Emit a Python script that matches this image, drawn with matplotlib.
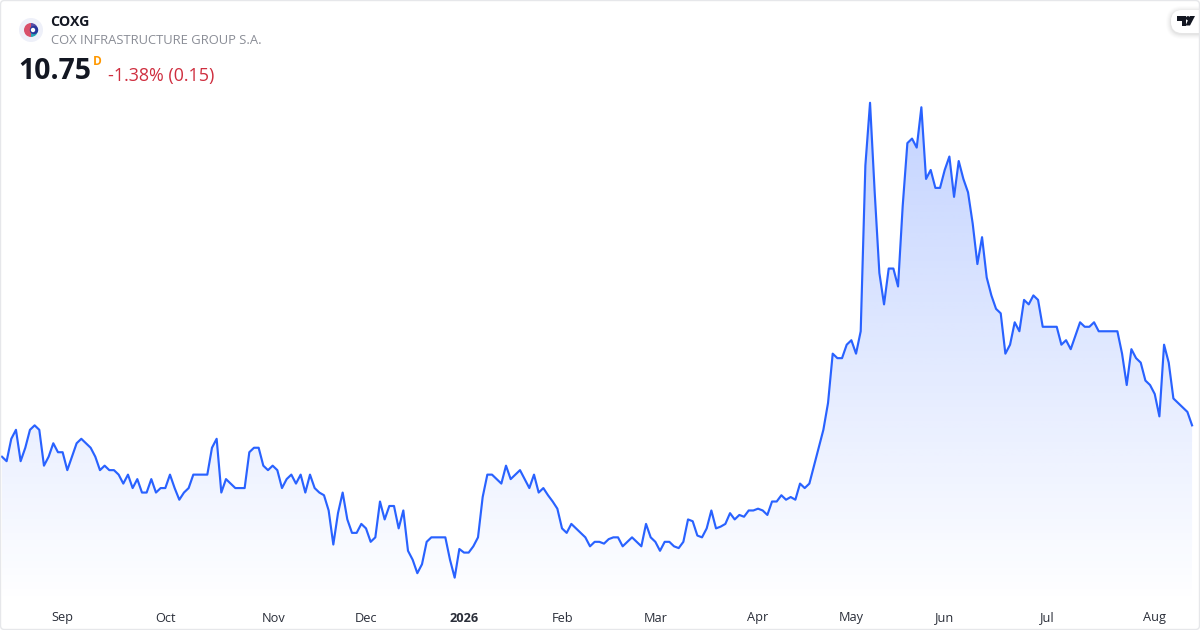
import numpy as np
import matplotlib
matplotlib.use('Agg')
import matplotlib.pyplot as plt
from matplotlib.patches import Circle, FancyBboxPatch, Polygon, Wedge

plt.rcParams['font.family'] = ['Open Sans', 'DejaVu Sans']

ticker = 'COXG'
company = 'COX INFRASTRUCTURE GROUP S.A.'
last_price = '10.75'
interval = 'D'
change_text = '-1.38% (0.15)'

# daily closes
closes = [
    10.40, 10.35, 10.60, 10.70, 10.35, 10.50, 10.70, 10.75, 10.70, 10.30,
    10.40, 10.55, 10.45, 10.45, 10.25, 10.40, 10.55, 10.60, 10.55, 10.50,
    10.40, 10.25, 10.30, 10.25, 10.25, 10.20, 10.10, 10.20, 10.05, 10.15,
    10.00, 10.00, 10.15, 10.00, 10.05, 10.05, 10.20, 10.05, 9.92, 10.00,
    10.05, 10.20, 10.20, 10.20, 10.20, 10.50, 10.60, 10.00, 10.15, 10.10,
    10.05, 10.05, 10.05, 10.45, 10.50, 10.50, 10.30, 10.25, 10.30, 10.25,
    10.05, 10.15, 10.20, 10.10, 10.20, 10.00, 10.20, 10.05, 10.00, 9.97,
    9.80, 9.42, 9.77, 10.00, 9.70, 9.55, 9.55, 9.65, 9.60, 9.45,
    9.50, 9.90, 9.70, 9.85, 9.85, 9.60, 9.80, 9.35, 9.25, 9.10,
    9.20, 9.45, 9.50, 9.50, 9.50, 9.50, 9.25, 9.05, 9.37, 9.33,
    9.33, 9.40, 9.50, 9.95, 10.20, 10.20, 10.15, 10.10, 10.30, 10.15,
    10.20, 10.25, 10.15, 10.05, 10.20, 10.00, 10.05, 9.97, 9.90, 9.82,
    9.60, 9.55, 9.65, 9.60, 9.55, 9.50, 9.40, 9.45, 9.45, 9.43,
    9.48, 9.50, 9.50, 9.40, 9.45, 9.50, 9.45, 9.40, 9.65, 9.50,
    9.45, 9.35, 9.45, 9.45, 9.40, 9.38, 9.45, 9.70, 9.68, 9.52,
    9.50, 9.60, 9.80, 9.60, 9.62, 9.65, 9.77, 9.70, 9.75, 9.73,
    9.80, 9.80, 9.82, 9.80, 9.75, 9.90, 9.90, 9.97, 9.92, 9.95,
    9.92, 10.10, 10.05, 10.10, 10.30, 10.50, 10.70, 11.00, 11.55, 11.50,
    11.50, 11.65, 11.70, 11.55, 11.80, 13.65, 14.35, 13.35, 12.45, 12.10,
    12.50, 12.50, 12.30, 13.20, 13.90, 13.95, 13.85, 14.30, 13.50, 13.60,
    13.40, 13.40, 13.60, 13.75, 13.30, 13.70, 13.50, 13.35, 13.00, 12.55,
    12.85, 12.40, 12.20, 12.05, 12.00, 11.55, 11.65, 11.90, 11.80, 12.15,
    12.10, 12.20, 12.15, 11.85, 11.85, 11.85, 11.85, 11.65, 11.70, 11.60,
    11.75, 11.90, 11.85, 11.85, 11.90, 11.80, 11.80, 11.80, 11.80, 11.80,
    11.55, 11.20, 11.60, 11.50, 11.45, 11.25, 11.20, 11.10, 10.85, 11.65,
    11.45, 11.05, 11.00, 10.95, 10.90, 10.75,
]
tick_labels = ['Sep', 'Oct', 'Nov', 'Dec', '2026', 'Feb', 'Mar', 'Apr', 'May', 'Jun', 'Jul', 'Aug']
tick_bars = [12.8, 34.9, 58.0, 77.9, 98.9, 119.9, 139.9, 161.9, 181.9, 201.9, 223.9, 246.9]

line_color = '#2962ff'
days = np.arange(len(closes))

fig = plt.figure(figsize=(12, 6.3), dpi=100, facecolor='white')

# price panel covers the whole card so bar index / price map straight to pixels
xlim = (-0.42, 256.70)
ylim = (8.466, 15.497)
ax = fig.add_axes([0, 0, 1, 1])
ax.axis('off')

# area gradient, peak of the series down to the top of the time scale
top_price = max(closes)
floor_price = 8.76
grad = np.zeros((256, 2, 4))
grad[..., :3] = matplotlib.colors.to_rgb(line_color)
grad[..., 3] = np.linspace(0.28, 0, 256)[:, None]
img = ax.imshow(grad, extent=(days[0], days[-1], floor_price, top_price),
                aspect='auto', interpolation='bilinear', zorder=1)
ax.set_xlim(*xlim)
ax.set_ylim(*ylim)
verts = list(zip(days, closes)) + [(days[-1], floor_price), (days[0], floor_price)]
clip = Polygon(verts, closed=True, transform=ax.transData, facecolor='none', edgecolor='none')
ax.add_patch(clip)
img.set_clip_path(clip)

ax.plot(days, closes, color=line_color, lw=1.55, solid_joinstyle='round', zorder=2)

# header, logos and border are drawn in pixel coordinates
ov = fig.add_axes([0, 0, 1, 1])
ov.set_xlim(0, 1200)
ov.set_ylim(630, 0)
ov.axis('off')
ov.patch.set_alpha(0)

for lab, pos in zip(tick_labels, tick_bars):
    px = 2.5 + 4.667 * pos
    ov.text(px, 618, lab, ha='center', va='center', fontsize=9.2, color='#2a2e39',
            fontweight='bold' if lab == '2026' else 'normal')

ov.text(50.5, 21.5, ticker, ha='left', va='center', fontsize=10.2, fontweight='bold', color='#131722')
ov.text(51, 41, company, ha='left', va='center', fontsize=9.36, color='#8a8d96')
ov.text(18.5, 71.5, last_price, ha='left', va='center', fontsize=20.4, fontweight='bold', color='#131722')
ov.text(93, 61.5, interval, ha='left', va='center', fontsize=8.6, fontweight='bold', color='#ff9800')
ov.text(108, 75.5, change_text, ha='left', va='center', fontsize=12.9, color='#cf2e3f')

# company logo
ov.add_patch(Circle((31, 30), 12, facecolor='#eef0f9', edgecolor='none'))
ov.add_patch(Wedge((31, 30), 7, 90, 270, facecolor='#d9506a', edgecolor='none'))
ov.add_patch(Wedge((31, 30), 7, 0, 90, facecolor='#2aa5b5', edgecolor='none'))
ov.add_patch(Wedge((31, 30), 7, -90, 0, facecolor='#5a4fa8', edgecolor='none'))
ov.add_patch(Circle((34, 30), 4.2, facecolor='#27389c', edgecolor='none'))
ov.add_patch(Circle((33, 30), 2.2, facecolor='white', edgecolor='none'))

# TradingView badge in the corner, soft shadow first
for grow, alpha in [(5, 0.012), (4, 0.016), (3, 0.02), (2, 0.025), (1, 0.03)]:
    ov.add_patch(FancyBboxPatch((1171 - grow, 10 - grow + 1), 40 + 2 * grow, 23 + 2 * grow,
                                boxstyle='round,pad=0,rounding_size=%d' % (11 + grow),
                                facecolor='black', edgecolor='none', alpha=alpha))
ov.add_patch(FancyBboxPatch((1171, 10), 40, 23, boxstyle='round,pad=0,rounding_size=11',
                            facecolor='white', edgecolor='none'))
ov.add_patch(Polygon([(1177, 16), (1186, 16), (1186, 25.5), (1182, 25.5), (1182, 20.5), (1177, 20.5)],
                     closed=True, facecolor='#131722', edgecolor='none'))
ov.add_patch(Circle((1188, 18.2), 2.1, facecolor='#131722', edgecolor='none'))
ov.add_patch(Polygon([(1190, 16), (1195, 16), (1190, 25.5), (1185.5, 25.5)],
                     closed=True, facecolor='#131722', edgecolor='none'))

# card outline
ov.add_patch(FancyBboxPatch((0.5, 0.5), 1199, 629, boxstyle='round,pad=0,rounding_size=4',
                            facecolor='none', edgecolor='#e6e7ea', lw=1))

fig.savefig('out.png', dpi=100, facecolor='white')
